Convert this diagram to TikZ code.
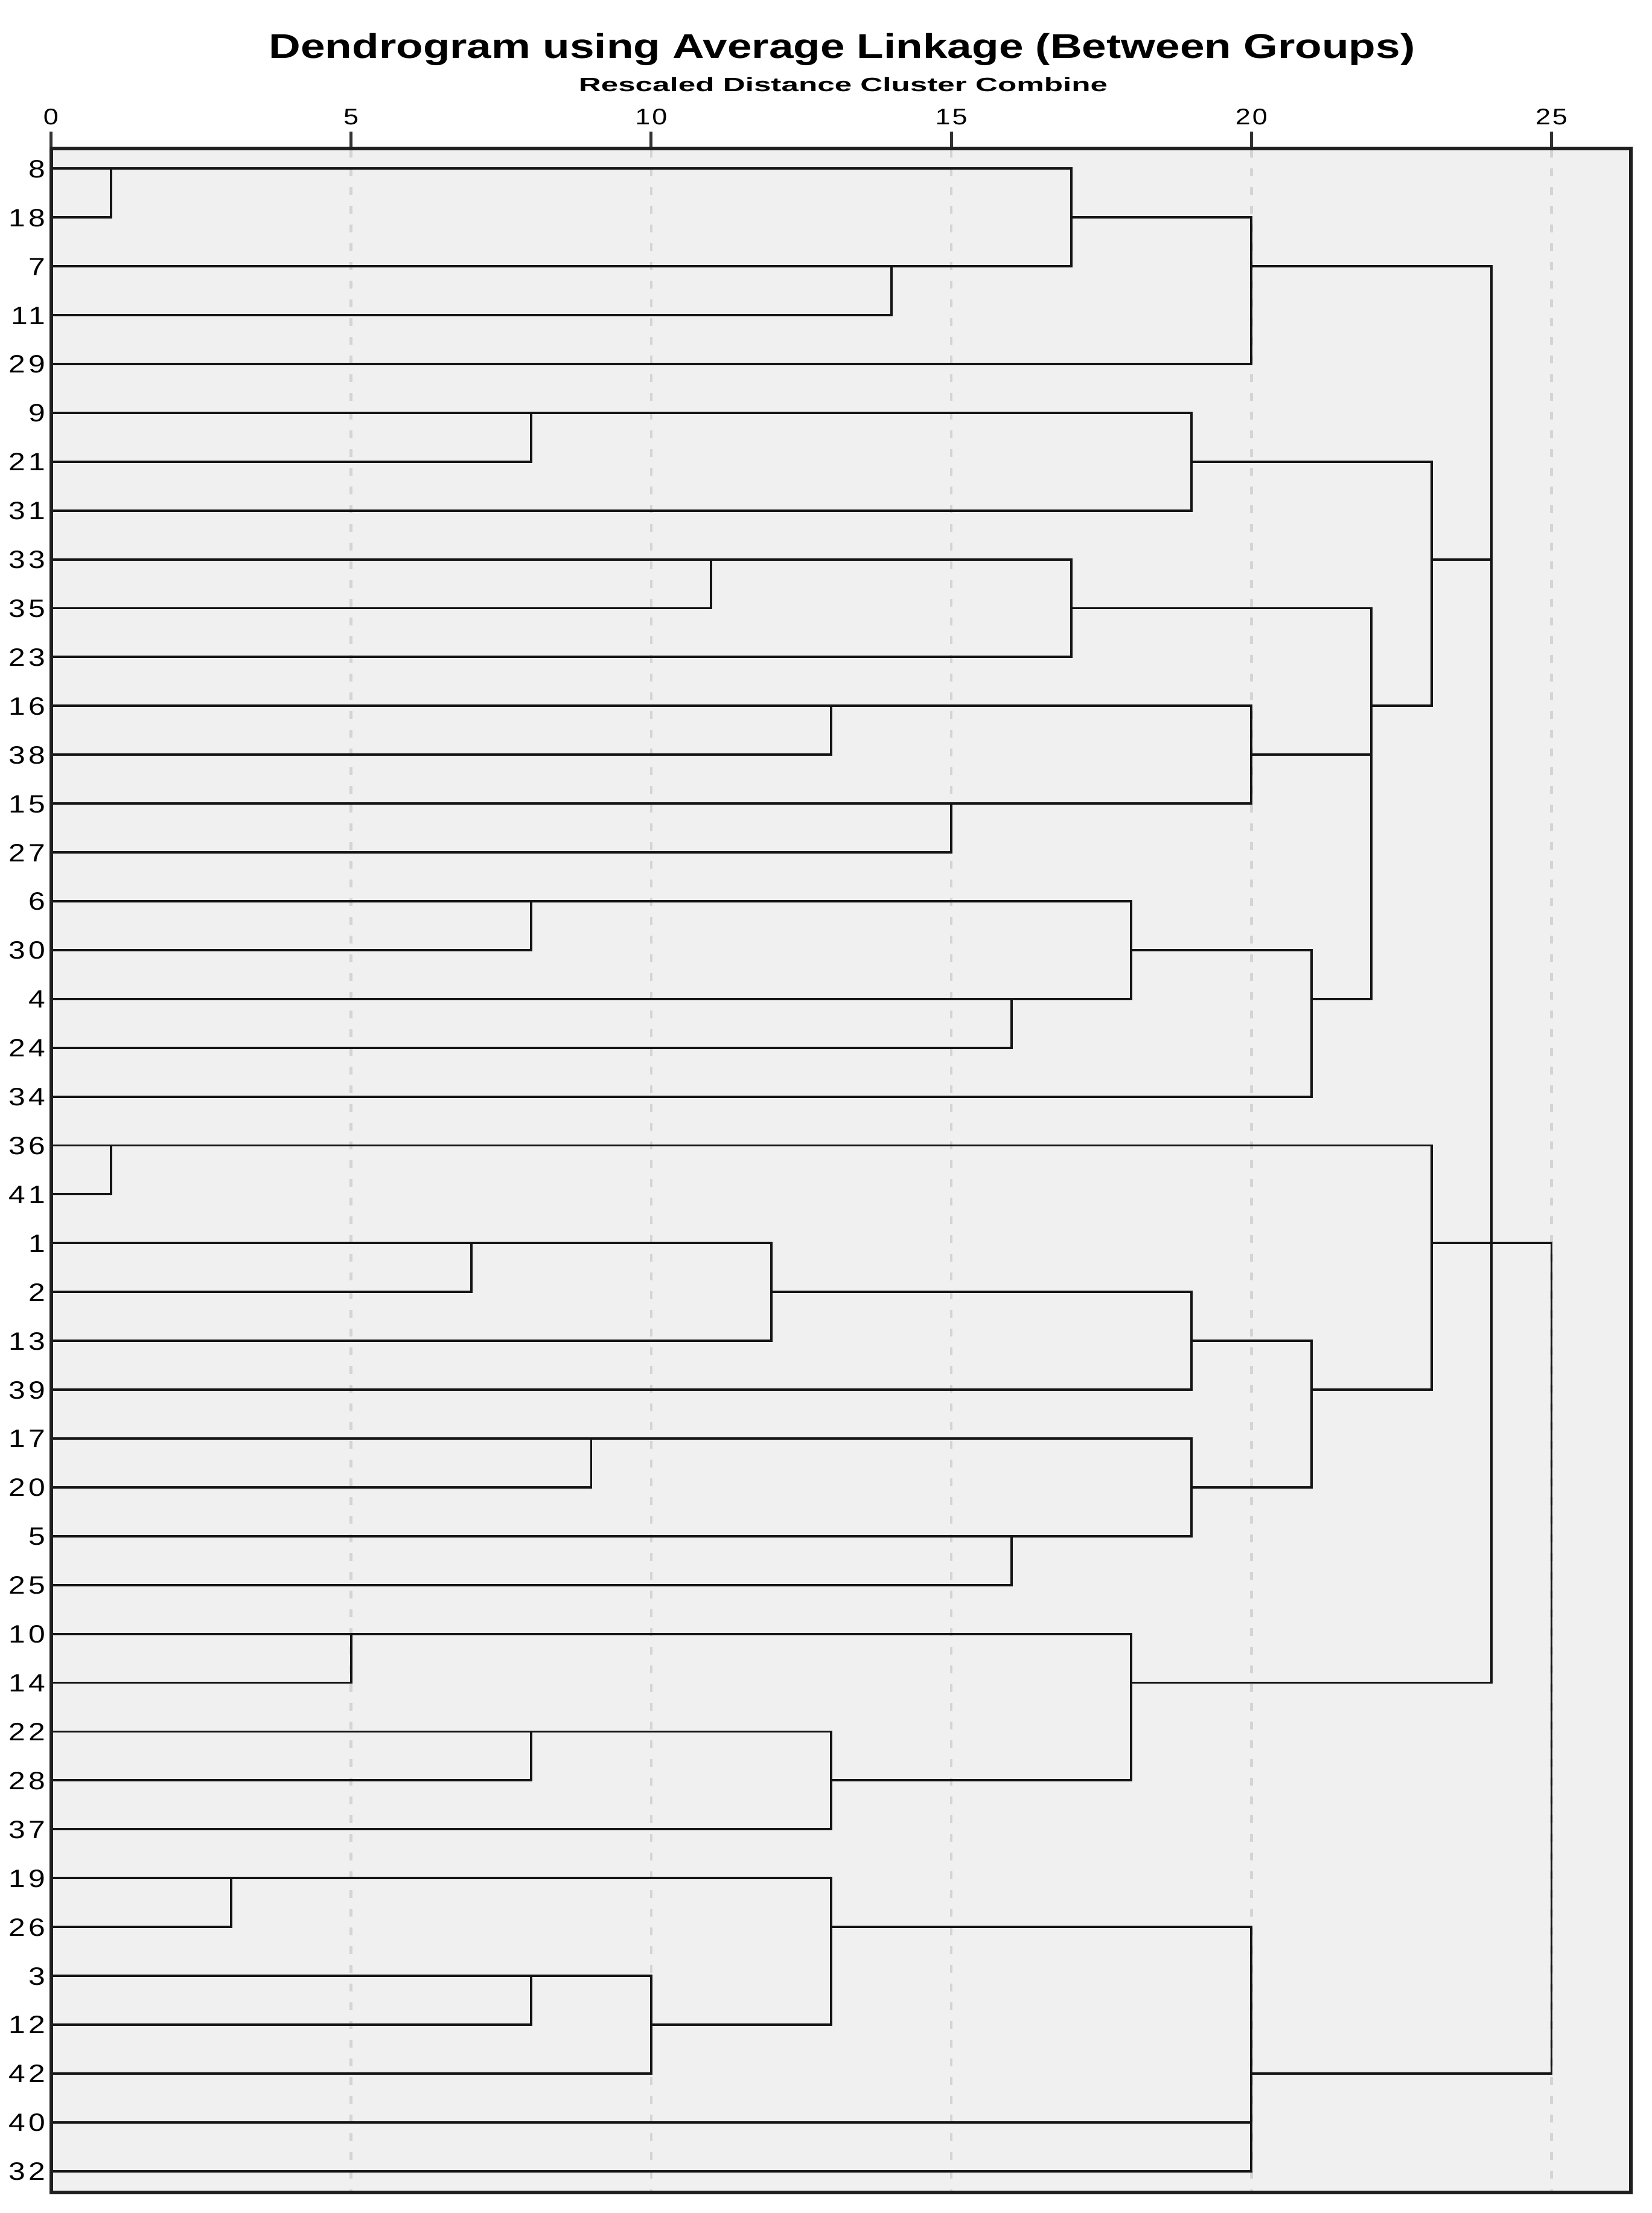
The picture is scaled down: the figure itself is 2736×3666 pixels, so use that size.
\documentclass[tikz,border=0pt]{standalone}
\usepackage{fontspec}
\setmainfont{Liberation Sans}
\newfontfamily\titlefont[FakeStretch=1.28]{Liberation Sans}
\newfontfamily\subfont[FakeStretch=1.6]{Liberation Sans}
\newfontfamily\tickfont[FakeStretch=1.2,LetterSpace=8]{Liberation Sans}
\newfontfamily\rowfont[FakeStretch=1.2,LetterSpace=12]{Liberation Sans}
\definecolor{panel}{HTML}{F0F0F0}
\definecolor{gridc}{HTML}{D4D4D4}
\definecolor{linec}{HTML}{141414}
\newcommand\dX[1]{84.5+#1*99.44}
\newcommand\rY[1]{279.3+#1*80.91}
\newcommand\merge[5]{%
  \coordinate (#1) at ({\dX{#4}},{\rY{#5}});
  \draw[dline] (#2) -| (#1 |- #3) -- (#3);
}
\tikzset{
  dline/.style={draw=linec,line width=0.78pt,line join=miter},
  gridline/.style={draw=gridc,line width=0.9pt,dash pattern=on 2.6pt off 3.6pt},
  framebox/.style={draw=black!88,line width=1.2pt},
  tickline/.style={draw=black!80,line width=1pt},
  ticklab/.style={font=\tickfont\fontsize{7.5}{8}\selectfont,anchor=base,inner sep=0pt},
  rowlab/.style={font=\rowfont\fontsize{8.3}{9}\selectfont,anchor=base east,inner sep=0pt},
}
\begin{document}
\begin{tikzpicture}[x=0.2pt,y=-0.2pt]
\useasboundingbox (0,0) rectangle (2736,3666);
% titles
\node[font=\titlefont\bfseries\fontsize{11.4}{12}\selectfont,anchor=base,inner sep=0pt] (title) at (1395,97) {Dendrogram using Average Linkage (Between Groups)};
\node[font=\subfont\bfseries\fontsize{6.4}{7}\selectfont,anchor=base,inner sep=0pt] (subtitle) at (1397,151) {Rescaled Distance Cluster Combine};
% panel
\fill[panel] (85,246) rectangle (2702,3632);
% grid
\foreach \d in {5,10,15,20,25} {
  \draw[gridline] ({\dX{\d}},248) -- ({\dX{\d}},3630);
}
% ticks and labels
\foreach \d in {0,5,10,15,20,25} {
  \coordinate (tk\d) at ({\dX{\d}},246);
  \draw[tickline] (tk\d) -- ++(0,-28);
  \node[ticklab] (t\d) at ({\dX{\d}},206) {\d};
}
% leaves
\foreach \lab [count=\i from 0] in {8,18,7,11,29,9,21,31,33,35,23,16,38,15,27,6,30,4,24,34,36,41,1,2,13,39,17,20,5,25,10,14,22,28,37,19,26,3,12,42,40,32} {
  \node[rowlab] (lab\lab) at (76,{\rY{\i}+15}) {\lab};
  \coordinate (l\lab) at (85,{\rY{\i}});
}
% clusters
\merge{c1}{l8}{l18}{1}{0}
\merge{c2}{l7}{l11}{14}{2}
\merge{c3}{c1}{c2}{17}{1}
\merge{A}{c3}{l29}{20}{2}
\merge{c5}{l9}{l21}{8}{5}
\merge{B1}{c5}{l31}{19}{6}
\merge{c7}{l33}{l35}{11}{8}
\merge{c8}{c7}{l23}{17}{9}
\merge{c9}{l16}{l38}{13}{11}
\merge{c10}{l15}{l27}{15}{13}
\merge{c11}{c9}{c10}{20}{12}
\merge{c12}{l6}{l30}{8}{15}
\merge{c13}{l4}{l24}{16}{17}
\merge{c14}{c12}{c13}{18}{16}
\merge{c15}{c14}{l34}{21}{17}
\merge{c16}{c11}{c15}{22}{14}
\merge{c17}{c8}{c16}{22}{11}
\merge{B}{B1}{c17}{23}{8}
\merge{c19}{l36}{l41}{1}{20}
\merge{c20}{l1}{l2}{7}{22}
\merge{c21}{c20}{l13}{12}{23}
\merge{c22}{c21}{l39}{19}{24}
\merge{c23}{l17}{l20}{9}{26}
\merge{c24}{l5}{l25}{16}{28}
\merge{c25}{c23}{c24}{19}{27}
\merge{c26}{c22}{c25}{21}{25}
\merge{C}{c19}{c26}{23}{22}
\merge{c28}{l10}{l14}{5}{30}
\merge{c29}{l22}{l28}{8}{32}
\merge{c30}{c29}{l37}{13}{33}
\merge{D}{c28}{c30}{18}{31}
\merge{c32}{l19}{l26}{3}{35}
\merge{c33}{l3}{l12}{8}{37}
\merge{c34}{c33}{l42}{10}{38}
\merge{c35}{c32}{c34}{13}{36}
\merge{c36}{c35}{l40}{20}{38}
\merge{E}{c36}{l32}{20}{39}
\merge{m1}{A}{B}{24}{5}
\merge{m2}{m1}{C}{24}{13}
\merge{m3}{m2}{D}{24}{22}
\merge{top}{m3}{E}{25}{30}
% frame
\draw[framebox] (85,246) rectangle (2702,3632);
\end{tikzpicture}
\end{document}
